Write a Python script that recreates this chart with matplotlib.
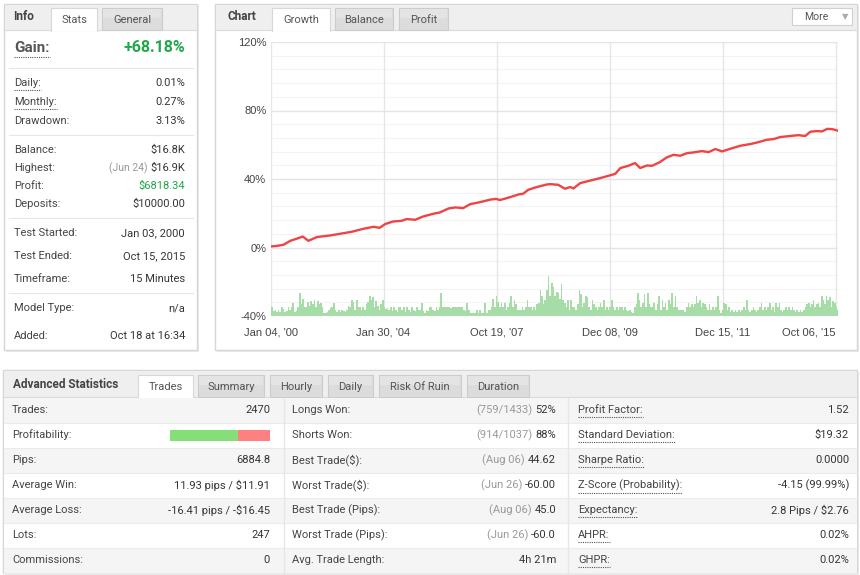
import matplotlib
matplotlib.use("Agg")
import matplotlib.pyplot as plt
import matplotlib.patches as mpatches
import numpy as np

# ---------------- DATA ----------------
growth_pos = [0.0, 1.1, 2.3, 3.5, 4.6, 5.7, 6.7, 8.2, 10.5, 12.3, 14.4, 16.4, 18.2, 19.3, 20.3,
              21.7, 23.2, 24.1, 25.6, 27.0, 28.8, 30.0, 31.5, 32.7, 34.1, 35.3, 37.1, 38.8, 39.9,
              40.6, 42.4, 43.9, 44.7, 45.6, 47.1, 48.9, 49.5, 50.9, 52.1, 53.0, 53.6, 54.8, 56.6,
              58.3, 59.8, 61.0, 61.9, 63.3, 64.5, 65.4, 66.6, 67.5, 68.9, 70.1, 71.3, 72.5, 73.7,
              74.8, 76.3, 77.5, 78.7, 79.9, 81.3, 83.1, 84.9, 86.3, 87.8, 89.0, 90.2, 91.9, 93.4,
              94.6, 95.5, 96.7, 97.6, 98.5, 99.4, 100.4]
growth_pct = [0.6, 0.9, 1.6, 3.9, 5.1, 6.4, 3.9, 6.1, 7.0, 8.0, 9.2, 10.9, 12.1, 11.5, 13.7,
              15.2, 15.6, 16.6, 16.2, 18.1, 19.7, 20.5, 22.8, 23.4, 23.0, 25.3, 26.5, 27.9, 28.4,
              27.7, 29.4, 31.0, 31.4, 33.7, 35.3, 36.8, 37.0, 36.6, 34.3, 35.3, 34.5, 37.6, 39.1,
              40.5, 41.9, 43.0, 46.4, 47.7, 49.3, 46.4, 47.9, 47.7, 49.9, 52.6, 54.1, 53.6, 55.1,
              55.5, 56.3, 55.7, 57.5, 56.1, 57.6, 59.4, 60.4, 61.5, 62.9, 63.3, 64.5, 65.1, 65.6,
              65.1, 67.6, 68.0, 67.8, 69.3, 69.1, 68.2]

# trade volume bars (height above the -40% floor, in chart % units)
volume_a = [11.9, 5.4, 3.1, 3.5, 2.1, 3.5, 2.1, 5.1, 4.1, 2.1, 3.1, 5.4, 3.5, 5.1, 7.6, 2.1, 3.1, 5.1,
            13.4, 7.0, 9.9, 5.4, 5.1, 8.0, 6.0, 9.0, 7.0, 9.3, 5.1, 9.0, 7.0, 7.4, 5.1, 1.6, 1.6, 2.1,
            3.5, 4.7, 5.4, 7.6, 3.5, 2.1, 3.5, 2.1, 3.5, 2.7, 2.1, 3.5, 6.0, 5.4, 9.3, 8.0, 3.5, 9.3,
            5.4, 5.1, 3.5, 5.4, 3.5, 7.0, 8.0, 11.9, 9.3, 10.9, 5.1, 9.0, 6.0, 3.5, 7.0, 9.3, 5.4,
            4.1, 4.7, 3.5, 5.1, 2.7, 5.1, 3.5, 2.1, 5.4, 5.1, 3.5, 5.4, 2.1, 5.1, 3.5, 2.1, 5.4, 3.5,
            2.7, 5.1, 3.5, 3.5, 7.6, 3.1, 1.6, 3.5, 2.7, 5.4, 5.1, 3.5, 3.1, 5.1, 3.5, 5.1, 13.4,
            5.1, 5.4, 5.1, 5.4, 5.4, 4.7, 5.1, 5.4, 5.4, 5.1]
volume_b = [5.4, 5.4, 5.4, 3.5, 2.7, 7.6, 3.5, 1.6, 1.6, 1.6, 1.6, 3.5, 1.6, 3.5, 1.6, 1.6, 7.6, 1.6,
            3.5, 3.5, 5.4, 9.9, 5.4, 11.9, 8.0, 5.4, 7.6, 5.4, 7.6, 3.5, 5.4, 7.6, 11.9, 5.4, 9.3,
            7.0, 3.5, 3.5, 3.5, 5.4, 3.5, 5.4, 9.3, 5.1, 5.4, 3.5, 5.4, 3.5, 7.0, 7.6, 15.2, 11.9,
            7.0, 9.3, 15.2, 23.5, 11.9, 19.1, 16.7, 11.9, 13.8, 13.2, 9.9, 18.7, 9.3, 7.6, 5.4, 9.3,
            3.5, 9.3, 5.4, 5.1, 3.5, 7.0, 15.2, 12.8, 5.1, 7.6, 11.9, 10.9, 5.4, 3.5, 9.3, 7.0, 5.4,
            3.5, 5.1, 7.6, 5.4, 9.3, 3.5, 5.1, 3.5, 5.4, 9.3, 5.4, 3.5, 5.1, 3.5, 5.4, 5.1, 3.5, 5.4,
            3.5, 2.7, 3.5, 2.1, 1.6, 5.4, 7.0, 13.2, 9.3, 5.4, 7.6, 12.8, 5.4, 13.4, 7.0, 5.4, 5.1]
volume_c = [7.6, 3.5, 7.0, 11.9, 3.5, 9.3, 5.4, 7.6, 3.5, 9.3, 7.0, 13.4, 5.4, 11.9, 5.4, 3.5, 3.5,
            3.5, 3.5, 2.1, 5.4, 7.6, 5.4, 7.0, 5.4, 7.0, 11.9, 7.6, 9.3, 5.4, 7.6, 7.0, 5.4, 3.5, 7.0,
            3.5, 5.4, 3.5, 5.1, 11.9, 3.5, 1.6, 3.5, 7.6, 7.0, 3.5, 5.1, 2.1, 3.5, 2.1, 3.5, 2.1, 3.5,
            2.1, 3.5, 5.4, 3.5, 9.3, 3.5, 2.1, 3.5, 5.4, 3.5, 2.1, 3.5, 5.4, 7.6, 3.5, 5.1, 3.5, 5.4,
            7.6, 3.5, 5.1, 2.1, 7.6, 5.4, 7.6, 3.5, 2.1, 3.5, 5.4, 3.5, 5.1, 3.5, 5.4, 3.5, 2.1, 3.5,
            2.1, 3.5, 2.1, 3.5, 5.4, 7.0, 7.6, 5.4, 7.0, 9.3, 5.4, 7.0, 7.6, 5.4, 11.9, 9.3, 7.0,
            11.9, 9.3, 10.9, 5.4, 9.0, 7.6, 5.1, 3.5]

x_tick_pos = [0, 20, 40, 60, 80, 100]
x_tick_labels = ["Jan 04, '00", "Jan 30, '04", "Oct 19, '07", "Dec 08, '09", "Dec 15, '11", "Oct 06, '15"]
y_ticks = [-40, 0, 40, 80, 120]
y_tick_labels = ["-40%", "0%", "40%", "80%", "120%"]

info_rows = [
    ("Daily:", "0.01%", None, True),
    ("Monthly:", "0.27%", None, True),
    ("Drawdown:", "3.13%", None, False),
    ("Balance:", "$16.8K", None, False),
    ("Highest:", "$16.9K", "(Jun 24)", False),
    ("Profit:", "$6818.34", None, False),
    ("Deposits:", "$10000.00", None, False),
    ("Test Started:", "Jan 03, 2000", None, False),
    ("Test Ended:", "Oct 15, 2015", None, False),
    ("Timeframe:", "15 Minutes", None, False),
    ("Model Type:", "n/a", None, False),
    ("Added:", "Oct 18 at 16:34", None, False),
]
gain_value = "+68.18%"

col1 = [("Trades:", "2470"), ("Profitability:", ""), ("Pips:", "6884.8"),
        ("Average Win:", "11.93 pips / $11.91"), ("Average Loss:", "-16.41 pips / -$16.45"),
        ("Lots:", "247"), ("Commissions:", "0")]
col2 = [("Longs Won:", "(759/1433)", "52%"), ("Shorts Won:", "(914/1037)", "88%"),
        ("Best Trade($):", "(Aug 06)", "44.62"), ("Worst Trade($):", "(Jun 26)", "-60.00"),
        ("Best Trade (Pips):", "(Aug 06)", "45.0"), ("Worst Trade (Pips):", "(Jun 26)", "-60.0"),
        ("Avg. Trade Length:", "", "4h 21m")]
col3 = [("Profit Factor:", "1.52"), ("Standard Deviation:", "$19.32"), ("Sharpe Ratio:", "0.0000"),
        ("Z-Score (Probability):", "-4.15 (99.99%)"), ("Expectancy:", "2.8 Pips / $2.76"),
        ("AHPR:", "0.02%"), ("GHPR:", "0.02%")]
profitability_win = 67.7  # percent of winning trades

info_tabs = ["Stats", "General"]
chart_tabs = ["Growth", "Balance", "Profit"]
adv_tabs = ["Trades", "Summary", "Hourly", "Daily", "Risk Of Ruin", "Duration"]

# ---------------- FIGURE ----------------
W, H = 860, 575
fig = plt.figure(figsize=(W / 100, H / 100), dpi=100)
fig.patch.set_facecolor("white")
bg = fig.add_axes([0, 0, 1, 1])
bg.set_xlim(0, W)
bg.set_ylim(H, 0)
bg.axis("off")
renderer = fig.canvas.get_renderer()

FONT = ["Roboto", "DejaVu Sans"]
LBL = "#454545"
VAL = "#353535"
GREEN = "#1fa84a"
FS = 8


def rect(x0, y0, x1, y1, fc, ec="none", lw=0.8, z=1):
    bg.add_patch(mpatches.Rectangle((x0, y0), x1 - x0, y1 - y0, facecolor=fc,
                                    edgecolor=ec, linewidth=lw, zorder=z))


def txt(x, y, s, ha="left", color=LBL, size=FS, weight="normal", family=FONT):
    return bg.text(x, y, s, ha=ha, va="center", color=color, fontsize=size,
                   fontweight=weight, family=family, zorder=5)


def extent(t):
    bb = t.get_window_extent(renderer=renderer)
    return bb.x0, bb.x1, H - bb.y0, H - bb.y1


def underline(t, color="#555"):
    x0, x1, yb, _ = extent(t)
    bg.plot([x0, x1], [yb + 2, yb + 2], color=color, lw=0.8, ls=(0, (1, 1)), zorder=5)


def panel(x0, y0, x1, y1, hy):
    rect(x0 + 1.5, y0 + 1.5, x1 + 1.5, y1 + 1.5, "#ececec", z=0.5)
    rect(x0, y0, x1, y1, "white", "#d6d6d6", 1.0, z=1)
    rect(x0 + 0.5, y0 + 0.5, x1 - 0.5, hy, "#efefef", z=1.1)
    bg.plot([x0, x1], [hy, hy], color="#dadada", lw=0.8, zorder=1.2)


def tab(x0, x1, y0, y1, label, active):
    if active:
        rect(x0, y0, x1, y1 + 0.8, "white", "none", z=1.3)
        bg.plot([x0, x0, x1, x1], [y1 + 0.5, y0, y0, y1 + 0.5], color="#d8d8d8", lw=0.8, zorder=1.4)
    else:
        rect(x0, y0, x1, y1, "#dcdcdc", "#cccccc", 0.8, z=1.3)
        rect(x0 + 1, y0 + 1, x1 - 1, y0 + (y1 - y0) * 0.45, "#e4e4e4", z=1.35)
    txt((x0 + x1) / 2, (y0 + y1) / 2 + 1, label, ha="center", color="#555", size=FS)


# ---------- Info panel ----------
panel(4, 4, 197, 350, 30)
txt(13, 17, "Info", color="#444", size=8.5, weight="bold")
tab(51, 97, 8, 30, info_tabs[0], True)
tab(102, 162, 8, 30, info_tabs[1], False)

tg = txt(14, 48, "Gain:", color="#555", size=11, weight="bold")
underline(tg, "#555")
txt(185, 48, gain_value, ha="right", color=GREEN, size=11.5, weight="bold")
for ys in [68, 135, 218, 293]:
    bg.plot([9, 193], [ys, ys], color="#e6e6e6", lw=0.8, zorder=2)
info_y = [83, 102, 121, 150, 168, 186, 204, 233, 256, 279, 308, 336]
for (lab, val, extra, dotted), yy in zip(info_rows, info_y):
    t = txt(14, yy, lab)
    if dotted:
        underline(t)
    col = GREEN if lab == "Profit:" else VAL
    tv = txt(185, yy, val, ha="right", color=col)
    if extra:
        x0, _, _, _ = extent(tv)
        txt(x0 - 3, yy, extra, ha="right", color="#999", size=7.5)

# ---------- Chart panel ----------
panel(215, 4, 857, 350, 30)
txt(228, 17, "Chart", color="#444", size=8.5, weight="bold")
tab(272, 330, 8, 30, chart_tabs[0], True)
tab(335, 393, 8, 30, chart_tabs[1], False)
tab(399, 448, 8, 30, chart_tabs[2], False)
rect(792, 8, 852, 25, "white", "#d0d0d0", 0.8, z=2)
txt(804, 16.5, "More", color="#555", size=7.5)
txt(845, 16.5, "\u25BC", ha="center", color="#aaaaaa", size=6, family=["DejaVu Sans"])

ax = fig.add_axes([270.5 / W, 1 - 316 / H, (838 - 270.5) / W, (316 - 42) / H])
ax.set_facecolor("none")
ax.set_xlim(0, 100.4)
ax.set_ylim(-40, 120)
for s in ax.spines.values():
    s.set_visible(False)
for yv in np.arange(-40, 121, 8):
    major = (yv % 40 == 0)
    ax.axhline(yv, color="#e4e4e4" if major else "#f3f3f3", lw=1.0 if major else 0.8, zorder=0)
for xv in x_tick_pos:
    ax.axvline(xv, color="#e6e6e6", lw=1.0, zorder=0)

vol = np.array(volume_a + volume_b + volume_c)
vx = np.linspace(0, 100.4, len(vol))
ax.bar(vx, vol, bottom=-40, width=(vx[1] - vx[0]) * 1.05, color="#a6dca6",
       edgecolor="none", align="center", zorder=2)
ax.axhline(-40, color="#bcd0e4", lw=1.0, zorder=3)
ax.plot(growth_pos, growth_pct, color="#ee4444", lw=1.7, zorder=4, solid_joinstyle="round")

ax.set_xticks(x_tick_pos)
ax.set_xticklabels(x_tick_labels, family=["Liberation Sans", "DejaVu Sans"], fontsize=8, color="#444")
ax.set_yticks(y_ticks)
ax.set_yticklabels(y_tick_labels, family=["Liberation Sans", "DejaVu Sans"], fontsize=8, color="#444")
ax.tick_params(axis="x", length=0, pad=8)
ax.tick_params(axis="y", length=0, pad=3)
ax.get_xticklabels()[-1].set_ha("right")
ax.get_xticklabels()[-1].set_x(100.4)

# ---------- Advanced statistics panel ----------
panel(3, 370, 857, 573, 397)
txt(13, 385, "Advanced Statistics", color="#444", size=8.5, weight="bold")
adv_tab_x = [(138, 193), (198, 264), (270, 322), (328, 373), (379, 461), (467, 529)]
for (x0, x1), lab, i in zip(adv_tab_x, adv_tabs, range(len(adv_tabs))):
    tab(x0, x1, 375, 397, lab, i == 0)

row_top = 397.5
row_h = 25
for i in range(7):
    y0 = row_top + i * row_h
    fc = "#f5f5f5" if i % 2 == 0 else "white"
    rect(3.5, y0, 856.5, y0 + row_h, fc, z=1.5)
    bg.plot([3.5, 856.5], [y0 + row_h, y0 + row_h], color="#ebebeb", lw=0.8, zorder=1.6)
for xs in [283.5, 567.5]:
    bg.plot([xs, xs], [row_top, row_top + 7 * row_h], color="#e6e6e6", lw=1.0, zorder=1.7)

for i in range(7):
    yy = row_top + i * row_h + row_h / 2
    lab, val = col1[i]
    txt(12, yy, lab)
    if val:
        txt(270, yy, val, ha="right", color=VAL)
    lab2, par, v2 = col2[i]
    txt(292, yy, lab2)
    tv = txt(556, yy, v2, ha="right", color=VAL)
    if par:
        x0, _, _, _ = extent(tv)
        txt(x0 - 3, yy, par, ha="right", color="#999")
    lab3, v3 = col3[i]
    t3 = txt(578, yy, lab3)
    underline(t3)
    txt(849, yy, v3, ha="right", color=VAL)

# profitability bar
py = row_top + row_h + row_h / 2
bx0, bx1 = 170, 270
bsplit = bx0 + (bx1 - bx0) * profitability_win / 100
rect(bx0, py - 5.5, bsplit, py + 5.5, "#86de78", z=3)
rect(bsplit, py - 5.5, bx1, py + 5.5, "#ff8080", z=3)

fig.savefig("out.png", dpi=100, facecolor="white")
